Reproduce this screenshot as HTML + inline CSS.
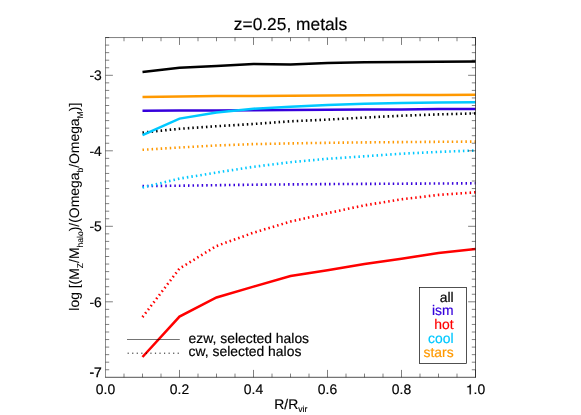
<!DOCTYPE html>
<html><head><meta charset="utf-8"><title>z=0.25, metals</title>
<style>
html,body{margin:0;padding:0;background:#fff;}
body{width:581px;height:415px;overflow:hidden;}
svg{display:block;}
text{font-family:"Liberation Sans",sans-serif;fill:#000;stroke:#000;stroke-width:0.18px;text-rendering:geometricPrecision;}
svg{will-change:transform;}
</style></head><body>
<svg width="581" height="415" viewBox="0 0 581 415">
<rect x="0" y="0" width="581" height="415" fill="#fff"/>
<defs><clipPath id="cp"><rect x="105.5" y="37.55" width="370.5" height="339.75"/></clipPath></defs>
<g clip-path="url(#cp)" fill="none" stroke-linejoin="miter">
<path d="M142.5 72.0 L179.5 67.8 L216.5 66.0 L253.5 64.1 L290.5 64.4 L327.5 62.9 L364.5 62.3 L401.5 62.1 L438.5 61.8 L475.5 61.5" stroke="#000000" stroke-width="2.5"/>
<path d="M142.5 132.6 L179.5 128.8 L216.5 126.2 L253.5 124.0 L290.5 121.3 L327.5 119.6 L364.5 117.6 L401.5 115.7 L438.5 114.4 L475.5 113.4" stroke="#000000" stroke-width="2.6" stroke-dasharray="1.5 3.05"/>
<path d="M142.5 110.7 L179.5 110.6 L216.5 110.4 L253.5 110.2 L290.5 110.0 L327.5 109.8 L364.5 109.6 L401.5 109.4 L438.5 109.1 L475.5 108.9" stroke="#3600dc" stroke-width="2.5"/>
<path d="M142.5 186.1 L179.5 185.7 L216.5 185.2 L253.5 184.7 L290.5 184.4 L327.5 184.1 L364.5 183.9 L401.5 183.7 L438.5 183.5 L475.5 183.3" stroke="#3600dc" stroke-width="2.6" stroke-dasharray="1.5 3.05"/>
<path d="M142.5 357.0 L179.5 316.6 L216.5 297.5 L253.5 286.6 L290.5 276.0 L327.5 270.2 L364.5 264.1 L401.5 258.8 L438.5 252.9 L475.5 249.1" stroke="#ff0000" stroke-width="2.5"/>
<path d="M142.5 317.1 L179.5 268.5 L216.5 246.0 L253.5 232.7 L290.5 221.6 L327.5 213.2 L364.5 205.3 L401.5 199.3 L438.5 194.9 L475.5 192.3" stroke="#ff0000" stroke-width="2.6" stroke-dasharray="1.5 3.05"/>
<path d="M142.5 135.1 L179.5 118.6 L216.5 112.6 L253.5 108.7 L290.5 106.8 L327.5 105.0 L364.5 103.7 L401.5 102.9 L438.5 102.5 L475.5 102.2" stroke="#00c8ff" stroke-width="2.5"/>
<path d="M142.5 187.5 L179.5 178.6 L216.5 172.5 L253.5 166.8 L290.5 162.2 L327.5 158.8 L364.5 156.3 L401.5 153.7 L438.5 151.9 L475.5 150.5" stroke="#00c8ff" stroke-width="2.6" stroke-dasharray="1.5 3.05"/>
<path d="M142.5 97.0 L179.5 96.4 L216.5 96.0 L253.5 95.9 L290.5 95.8 L327.5 95.5 L364.5 95.2 L401.5 95.0 L438.5 94.9 L475.5 94.8" stroke="#ff9900" stroke-width="2.5"/>
<path d="M142.5 149.8 L179.5 147.5 L216.5 145.5 L253.5 144.1 L290.5 143.4 L327.5 142.8 L364.5 142.4 L401.5 142.1 L438.5 141.8 L475.5 141.6" stroke="#ff9900" stroke-width="2.6" stroke-dasharray="1.5 3.05"/>
</g>
<g stroke="#000" stroke-width="0.5" fill="none">
<path d="M105.5 37.3V377.55" stroke-width="0.45"/>
<path d="M105.25 37.55H475.75" stroke-width="0.5"/>
<path d="M475.5 37.3V377.55" stroke-width="0.62"/>
<path d="M105.25 377.3H475.75" stroke-width="0.68"/>
<path d="M124.00 377.3v-3.7M124.00 37.55v3.7M142.50 377.3v-3.7M142.50 37.55v3.7M161.00 377.3v-3.7M161.00 37.55v3.7M179.50 377.3v-7.4M179.50 37.55v7.4M198.00 377.3v-3.7M198.00 37.55v3.7M216.50 377.3v-3.7M216.50 37.55v3.7M235.00 377.3v-3.7M235.00 37.55v3.7M253.50 377.3v-7.4M253.50 37.55v7.4M272.00 377.3v-3.7M272.00 37.55v3.7M290.50 377.3v-3.7M290.50 37.55v3.7M309.00 377.3v-3.7M309.00 37.55v3.7M327.50 377.3v-7.4M327.50 37.55v7.4M346.00 377.3v-3.7M346.00 37.55v3.7M364.50 377.3v-3.7M364.50 37.55v3.7M383.00 377.3v-3.7M383.00 37.55v3.7M401.50 377.3v-7.4M401.50 37.55v7.4M420.00 377.3v-3.7M420.00 37.55v3.7M438.50 377.3v-3.7M438.50 37.55v3.7M457.00 377.3v-3.7M457.00 37.55v3.7M475.50 377.3v-7.4M475.50 37.55v7.4M105.5 369.75h3.7M475.5 369.75h-3.7M105.5 362.20h3.7M475.5 362.20h-3.7M105.5 354.65h3.7M475.5 354.65h-3.7M105.5 347.10h3.7M475.5 347.10h-3.7M105.5 339.55h3.7M475.5 339.55h-3.7M105.5 332.00h3.7M475.5 332.00h-3.7M105.5 324.45h3.7M475.5 324.45h-3.7M105.5 316.90h3.7M475.5 316.90h-3.7M105.5 309.35h3.7M475.5 309.35h-3.7M105.5 301.80h7.4M475.5 301.80h-7.4M105.5 294.25h3.7M475.5 294.25h-3.7M105.5 286.70h3.7M475.5 286.70h-3.7M105.5 279.15h3.7M475.5 279.15h-3.7M105.5 271.60h3.7M475.5 271.60h-3.7M105.5 264.05h3.7M475.5 264.05h-3.7M105.5 256.50h3.7M475.5 256.50h-3.7M105.5 248.95h3.7M475.5 248.95h-3.7M105.5 241.40h3.7M475.5 241.40h-3.7M105.5 233.85h3.7M475.5 233.85h-3.7M105.5 226.30h7.4M475.5 226.30h-7.4M105.5 218.75h3.7M475.5 218.75h-3.7M105.5 211.20h3.7M475.5 211.20h-3.7M105.5 203.65h3.7M475.5 203.65h-3.7M105.5 196.10h3.7M475.5 196.10h-3.7M105.5 188.55h3.7M475.5 188.55h-3.7M105.5 181.00h3.7M475.5 181.00h-3.7M105.5 173.45h3.7M475.5 173.45h-3.7M105.5 165.90h3.7M475.5 165.90h-3.7M105.5 158.35h3.7M475.5 158.35h-3.7M105.5 150.80h7.4M475.5 150.80h-7.4M105.5 143.25h3.7M475.5 143.25h-3.7M105.5 135.70h3.7M475.5 135.70h-3.7M105.5 128.15h3.7M475.5 128.15h-3.7M105.5 120.60h3.7M475.5 120.60h-3.7M105.5 113.05h3.7M475.5 113.05h-3.7M105.5 105.50h3.7M475.5 105.50h-3.7M105.5 97.95h3.7M475.5 97.95h-3.7M105.5 90.40h3.7M475.5 90.40h-3.7M105.5 82.85h3.7M475.5 82.85h-3.7M105.5 75.30h7.4M475.5 75.30h-7.4M105.5 67.75h3.7M475.5 67.75h-3.7M105.5 60.20h3.7M475.5 60.20h-3.7M105.5 52.65h3.7M475.5 52.65h-3.7M105.5 45.10h3.7M475.5 45.10h-3.7M105.5 37.55h3.7M475.5 37.55h-3.7"/>
</g>
<text x="105.5" y="394.35" font-size="13.9" text-anchor="middle">0.0</text>
<text x="179.5" y="394.35" font-size="13.9" text-anchor="middle">0.2</text>
<text x="253.5" y="394.35" font-size="13.9" text-anchor="middle">0.4</text>
<text x="327.5" y="394.35" font-size="13.9" text-anchor="middle">0.6</text>
<text x="401.5" y="394.35" font-size="13.9" text-anchor="middle">0.8</text>
<path transform="translate(465.84 394.35) scale(0.01390 -0.01390)" d="M359 0H273V505H101V568C190 572 262 603 297 709H359Z" fill="#000" stroke="#000" stroke-width="13"/>
<text x="473.57" y="394.35" font-size="13.9">.0</text>
<text x="101.8" y="306.6" font-size="13.9" text-anchor="end">-6</text>
<text x="101.8" y="231.1" font-size="13.9" text-anchor="end">-5</text>
<text x="101.8" y="155.6" font-size="13.9" text-anchor="end">-4</text>
<text x="101.8" y="80.1" font-size="13.9" text-anchor="end">-3</text>
<text x="101.8" y="377.1" font-size="13.9" text-anchor="end" style="stroke-width:0.3px">-7</text>
<text x="290.5" y="30.3" font-size="17.35" text-anchor="middle">z=0.25, metals</text>
<text x="290.8" y="408.7" font-size="13.9" text-anchor="middle">R/R<tspan font-size="8.6" dy="3.6">vir</tspan></text>
<text transform="translate(79.3 206.7) rotate(-90)" font-size="13.9" text-anchor="middle" style="stroke-width:0.05px">log [(M<tspan font-size="8.6" dy="3.4">Z</tspan><tspan dy="-3.4">/M</tspan><tspan font-size="8.6" dy="3.4">halo</tspan><tspan dy="-3.4">)/(Omega</tspan><tspan font-size="8.6" dy="3.4">b</tspan><tspan dy="-3.4">/Omega</tspan><tspan font-size="8.6" dy="3.4">M</tspan><tspan dy="-3.4">)]</tspan></text>
<path d="M127 339.5H179.8" stroke="#000" stroke-width="0.55" fill="none"/>
<path d="M127.6 353.2H179.8" stroke="#000" stroke-width="0.9" stroke-dasharray="1.2 3.35" fill="none"/>
<text x="188.6" y="342.6" font-size="13.9">ezw, selected halos</text>
<text x="188.6" y="356.3" font-size="13.9">cw, selected halos</text>
<rect x="419.5" y="287.5" width="47" height="76" fill="none" stroke="#000" stroke-width="0.68"/>
<text x="453.6" y="301.7" font-size="13.9" text-anchor="end" style="fill:#000000;stroke:#000000">all</text>
<text x="453.6" y="315.4" font-size="13.9" text-anchor="end" style="fill:#3600dc;stroke:#3600dc">ism</text>
<text x="453.6" y="329.1" font-size="13.9" text-anchor="end" style="fill:#ff0000;stroke:#ff0000">hot</text>
<text x="453.6" y="342.9" font-size="13.9" text-anchor="end" style="fill:#00c8ff;stroke:#00c8ff">cool</text>
<text x="453.6" y="356.6" font-size="13.9" text-anchor="end" style="fill:#ff9900;stroke:#ff9900">stars</text>
</svg>
</body></html>
